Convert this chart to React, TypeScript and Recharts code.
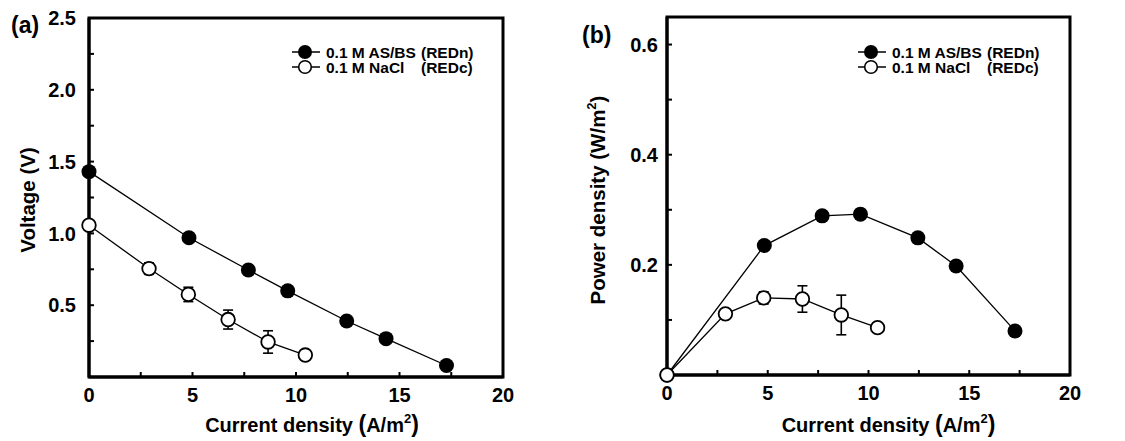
import React from 'react';
import { ScatterChart, Scatter, XAxis, YAxis, ErrorBar, ReferenceArea, Legend, Label } from 'recharts';

const FONT = 'Arial, "Liberation Sans", Helvetica, sans-serif';

// Current density (A/m2)
const currentASBS = [0, 4.83, 7.7, 9.6, 12.45, 14.35, 17.27];
const currentNaCl = [0, 2.9, 4.8, 6.72, 8.65, 10.45];

// Panel (a): voltage (V)
const voltageASBS = [1.43, 0.97, 0.745, 0.6, 0.39, 0.267, 0.08];
const voltageNaCl = [1.057, 0.755, 0.575, 0.4, 0.244, 0.153];
const voltageNaClErr = [0, 0.04, 0.05, 0.066, 0.078, 0];

// Panel (b): power density (W/m2)
const powerASBS = [0, 0.235, 0.289, 0.292, 0.249, 0.198, 0.08];
const powerNaCl = [0, 0.111, 0.14, 0.138, 0.109, 0.086];
const powerNaClErr = [0, 0.005, 0.011, 0.024, 0.036, 0];

// Ticks
const xTicks = [0, 2.5, 5, 7.5, 10, 12.5, 15, 17.5, 20];
const xLabels = [0, 5, 10, 15, 20];
const voltTicks = [0, 0.25, 0.5, 0.75, 1, 1.25, 1.5, 1.75, 2, 2.25, 2.5];
const voltLabels = [0.5, 1, 1.5, 2, 2.5];
const powTicks = [0, 0.1, 0.2, 0.3, 0.4, 0.5, 0.6];
const powLabels = [0.2, 0.4, 0.6];

const legendNames = ['0.1 M AS/BS', '0.1 M NaCl'];
const legendTags = ['(REDn)', '(REDc)'];

const zip = (xs: number[], ys: number[], es?: number[]) =>
  xs.map((x, i) => ({ x, y: ys[i], err: es ? es[i] : 0 }));

const makeXTick = (max: number) => (props: any) => {
  const { x, y, payload } = props;
  const v = payload.value;
  return (
    <g>
      {v !== 0 && v !== max && (
        <line x1={x} x2={x} y1={y} y2={y - 5} stroke="#000" strokeWidth={2} />
      )}
      {xLabels.includes(v) && (
        <text x={x} y={y + 25} textAnchor="middle" fontFamily={FONT} fontWeight="bold" fontSize={20} fill="#000">
          {v}
        </text>
      )}
    </g>
  );
};

const makeYTick = (labels: number[], max: number, gap: number, digits: number) => (props: any) => {
  const { x, y, payload } = props;
  const v = payload.value;
  return (
    <g>
      {v !== 0 && v !== max && (
        <line x1={x} x2={x + 5} y1={y} y2={y} stroke="#000" strokeWidth={2} />
      )}
      {labels.some((l) => Math.abs(l - v) < 1e-9) && (
        <text x={x - gap} y={y} dy="0.36em" textAnchor="end" fontFamily={FONT} fontWeight="bold" fontSize={20} fill="#000">
          {v.toFixed(digits)}
        </text>
      )}
    </g>
  );
};

const circleFilled = (p: any) => <circle cx={p.cx} cy={p.cy} r={7.5} fill="#000" />;
const circleOpen = (p: any) => <circle cx={p.cx} cy={p.cy} r={6.8} fill="#fff" stroke="#000" strokeWidth={1.8} />;

const LegendBox = () => (
  <svg width={200} height={36} style={{ display: 'block', overflow: 'visible' }}>
    {[0, 1].map((i) => {
      const cy = 12 + i * 15;
      return (
        <g key={i}>
          <line x1={2} x2={30} y1={cy} y2={cy} stroke="#000" strokeWidth={1.5} />
          {i === 0 ? (
            <circle cx={15} cy={cy} r={7} fill="#000" />
          ) : (
            <circle cx={15} cy={cy} r={6.3} fill="#fff" stroke="#000" strokeWidth={1.6} />
          )}
          <text x={36} y={cy} dy="0.36em" fontFamily={FONT} fontWeight="bold" fontSize={15.5} fill="#000">
            {legendNames[i]}
          </text>
          <text x={131} y={cy} dy="0.36em" fontFamily={FONT} fontWeight="bold" fontSize={15.5} fill="#000">
            {legendTags[i]}
          </text>
        </g>
      );
    })}
  </svg>
);

const xTitle = (dx: number, dyBase: number) => (props: any) => {
  const vb = props.viewBox;
  const cx = vb.x + vb.width / 2 + dx;
  const y = vb.y + dyBase;
  return (
    <text x={cx} y={y} textAnchor="middle" fontFamily={FONT} fontWeight="bold" fontSize={20} fill="#000">
      <tspan>Current density </tspan>
      <tspan fontSize={23}>(</tspan>
      <tspan>A/m</tspan>
      <tspan fontSize={13} dy={-9}>2</tspan>
      <tspan fontSize={23} dy={9}>)</tspan>
    </text>
  );
};

const yTitle = (title: string, sup: boolean, cxOff: number, panel: string, px: number, py: number) => (props: any) => {
  const vb = props.viewBox;
  const cx = vb.x + cxOff;
  const cy = 200;
  return (
    <g>
      <text
        x={cx}
        y={cy}
        dy="0.36em"
        transform={`rotate(-90, ${cx}, ${cy})`}
        textAnchor="middle"
        fontFamily={FONT}
        fontWeight="bold"
        fontSize={20.5}
        fill="#000"
      >
        <tspan>{title}</tspan>
        {sup && (
          <>
            <tspan fontSize={13} dy={-9}>2</tspan>
            <tspan dy={9}>)</tspan>
          </>
        )}
      </text>
      <text x={vb.x + px} y={py} fontFamily={FONT} fontWeight="bold" fontSize={23} fill="#000">
        {panel}
      </text>
    </g>
  );
};

const axisLineStyle = { stroke: '#000', strokeWidth: 3 };

export default function App() {
  return (
    <div style={{ position: 'absolute', left: 0, top: 0, width: 1125, height: 441, background: '#fff' }}>
      <div style={{ position: 'absolute', left: 0, top: 0 }}>
        <ScatterChart width={560} height={441} margin={{ top: 18, right: 57, bottom: 0, left: 0 }}>
          <XAxis
            type="number"
            dataKey="x"
            domain={[0, 20]}
            ticks={xTicks}
            interval={0}
            height={64}
            tickSize={0}
            tickMargin={0}
            tickLine={false}
            axisLine={axisLineStyle}
            tick={makeXTick(20)}
          >
            <Label content={xTitle(16, 55)} />
          </XAxis>
          <YAxis
            type="number"
            dataKey="y"
            domain={[0, 2.5]}
            ticks={voltTicks}
            interval={0}
            width={89}
            tickSize={0}
            tickMargin={0}
            tickLine={false}
            axisLine={axisLineStyle}
            tick={makeYTick(voltLabels, 2.5, 13, 1)}
          >
            <Label content={yTitle('Voltage (V)', false, 28, '(a)', 11, 33)} />
          </YAxis>
          <ReferenceArea x1={0} x2={20} y1={0} y2={2.5} fill="none" stroke="#000" strokeWidth={3} />
          <Scatter
            data={zip(currentASBS, voltageASBS)}
            line={{ stroke: '#000', strokeWidth: 1.3 }}
            lineType="joint"
            shape={circleFilled}
            isAnimationActive={false}
          />
          <Scatter
            data={zip(currentNaCl, voltageNaCl, voltageNaClErr)}
            line={{ stroke: '#000', strokeWidth: 1.3 }}
            lineType="joint"
            shape={circleOpen}
            isAnimationActive={false}
          >
            <ErrorBar dataKey="err" direction="y" width={5} stroke="#000" strokeWidth={1.6} isAnimationActive={false} />
          </Scatter>
          <Legend
            layout="horizontal"
            verticalAlign="middle"
            align="center"
            wrapperStyle={{ left: 290, top: 40, width: 200, height: 36 }}
            content={() => <LegendBox />}
          />
        </ScatterChart>
      </div>
      <div style={{ position: 'absolute', left: 560, top: 0 }}>
        <ScatterChart width={565} height={441} margin={{ top: 17, right: 55, bottom: 0, left: 0 }}>
          <XAxis
            type="number"
            dataKey="x"
            domain={[0, 20]}
            ticks={xTicks}
            interval={0}
            height={66}
            tickSize={0}
            tickMargin={0}
            tickLine={false}
            axisLine={axisLineStyle}
            tick={makeXTick(20)}
          >
            <Label content={xTitle(20, 57)} />
          </XAxis>
          <YAxis
            type="number"
            dataKey="y"
            domain={[0, 0.65]}
            ticks={powTicks}
            interval={0}
            width={107}
            tickSize={0}
            tickMargin={0}
            tickLine={false}
            axisLine={axisLineStyle}
            tick={makeYTick(powLabels, 0.65, 9, 1)}
          >
            <Label content={yTitle('Power density (W/m', true, 38, '(b)', 22, 43)} />
          </YAxis>
          <ReferenceArea x1={0} x2={20} y1={0} y2={0.65} fill="none" stroke="#000" strokeWidth={3} />
          <Scatter
            data={zip(currentASBS, powerASBS)}
            line={{ stroke: '#000', strokeWidth: 1.3 }}
            lineType="joint"
            shape={circleFilled}
            isAnimationActive={false}
          />
          <Scatter
            data={zip(currentNaCl, powerNaCl, powerNaClErr)}
            line={{ stroke: '#000', strokeWidth: 1.3 }}
            lineType="joint"
            shape={circleOpen}
            isAnimationActive={false}
          >
            <ErrorBar dataKey="err" direction="y" width={5} stroke="#000" strokeWidth={1.6} isAnimationActive={false} />
          </Scatter>
          <Legend
            layout="horizontal"
            verticalAlign="middle"
            align="center"
            wrapperStyle={{ left: 296, top: 40, width: 200, height: 36 }}
            content={() => <LegendBox />}
          />
        </ScatterChart>
      </div>
    </div>
  );
}
